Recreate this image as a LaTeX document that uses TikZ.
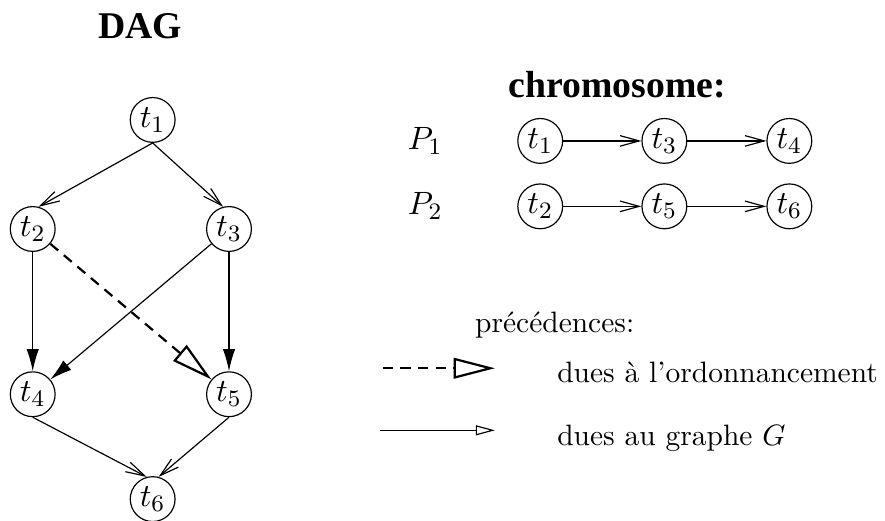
\documentclass[tikz,border=0pt]{standalone}
\usepackage{fontspec}
\newfontfamily\titre{Liberation Serif}
\usetikzlibrary{arrows.meta}
\tikzset{every path/.style={thin}}
\tikzset{
  tache/.style={circle, draw, minimum size=15.2pt, inner sep=0pt, font=\fontsize{11}{13}\selectfont},
  titregras/.style={font=\titre\bfseries\fontsize{12.8}{15}\selectfont},
  barbe/.style={-{Straight Barb[length=6.5pt,width=3.6pt]}},
  plein/.style={-{Latex[length=7.5pt,width=4.2pt]}},
  ordo/.style={line width=0.75pt, dash pattern=on 3.5pt off 2.5pt,
    -{Triangle[open,length=14pt,width=7pt]}},
  graphe/.style={-{Triangle[open,length=6.5pt,width=3.4pt]}}
}

\begin{document}
\begin{tikzpicture}
    \useasboundingbox (0,0) rectangle (10.55,6.21);

    % le DAG
    \node[titregras] (dag) at (1.67,5.90) {DAG};

    \node[tache] (t1) at (1.82,4.78) {$t_1$};
    \node[tache] (t2) at (0.39,3.48) {$t_2$};
    \node[tache] (t3) at (2.73,3.48) {$t_3$};
    \node[tache] (t4) at (0.39,1.51) {$t_4$};
    \node[tache] (t5) at (2.73,1.51) {$t_5$};
    \node[tache] (t6) at (1.82,0.26) {$t_6$};

    \draw[barbe] (t1.south) -- (t2.75);
    \draw[barbe] (t1.south) -- (t3.105);
    \draw[plein] (t2) -- (t4);
    \draw[plein] (t3) -- (t4);
    \draw[plein] (t3) -- (t5);
    \draw[ordo] (t2) -- (t5);
    \draw[barbe] (t4.south) -- (t6.105);
    \draw[barbe] (t5.south) -- (t6.75);

    % le chromosome
    \node[titregras] (chromo) at (7.36,5.20) {chromosome:};

    \node[font=\fontsize{11}{13}\selectfont] (p1) at (5.07,4.53) {$P_1$};
    \node[font=\fontsize{11}{13}\selectfont] (p2) at (5.07,3.75) {$P_2$};

    \node[tache] (c1) at (6.44,4.53) {$t_1$};
    \node[tache] (c3) at (7.92,4.53) {$t_3$};
    \node[tache] (c4) at (9.41,4.53) {$t_4$};
    \node[tache] (c2) at (6.44,3.75) {$t_2$};
    \node[tache] (c5) at (7.92,3.75) {$t_5$};
    \node[tache] (c6) at (9.41,3.75) {$t_6$};

    \draw[barbe] (c1) -- (c3);
    \draw[barbe] (c3) -- (c4);
    \draw[barbe] (c2) -- (c5);
    \draw[barbe] (c5) -- (c6);

    % la legende
    \node[anchor=west] (prec) at (5.54,2.34) {précédences:};

    \coordinate (oa) at (4.56,1.82);
    \coordinate (ob) at (5.90,1.82);
    \draw[ordo] (oa) -- (ob);
    \node[anchor=west] (lordo) at (6.52,1.77) {dues à l'ordonnancement};

    \coordinate (ga) at (4.53,1.08);
    \coordinate (gb) at (5.90,1.08);
    \draw[graphe] (ga) -- (gb);
    \node[anchor=west] (lgraphe) at (6.52,0.99) {dues au graphe $G$};
  \end{tikzpicture}
\end{document}
